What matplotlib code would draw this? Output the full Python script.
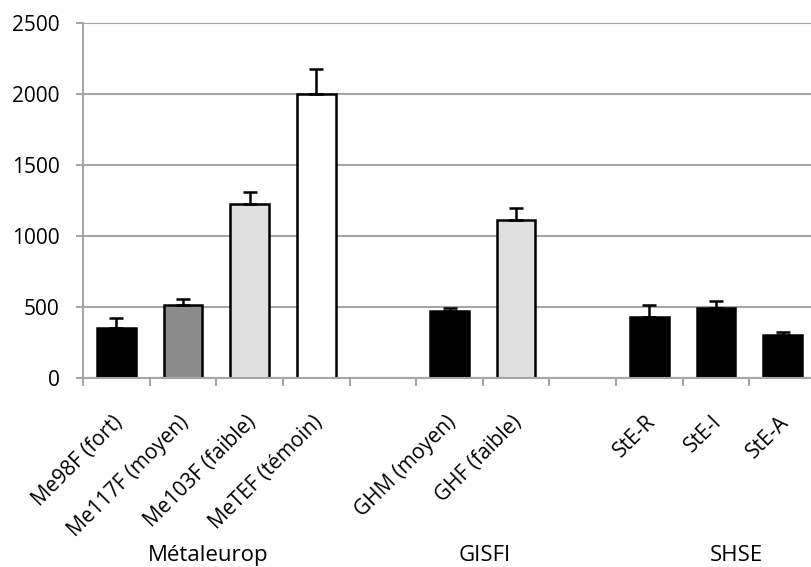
import matplotlib.pyplot as plt
import matplotlib.transforms as mtransforms
import numpy as np

plt.rcParams['font.family'] = ['Open Sans', 'DejaVu Sans']

labels = ["Me98F (fort)", "Me117F (moyen)", "Me103F (faible)", "MeTEF (témoin)",
          "GHM (moyen)", "GHF (faible)",
          "StE-R", "StE-I", "StE-A"]
values = [355, 515, 1225, 2000, 470, 1115, 430, 495, 305]
errors = [65, 42, 88, 175, 22, 82, 85, 47, 22]
colors = ["#000000", "#8c8c8c", "#e0e0e0", "#ffffff",
          "#000000", "#e0e0e0",
          "#000000", "#000000", "#000000"]
groups = ["Métaleurop", "GISFI", "SHSE"]
group_sizes = [4, 2, 3]

# slot positions, one empty slot between groups
pos = []
start = 0
for n in group_sizes:
    pos += list(range(start, start + n))
    start += n + 1
pos = np.array(pos)

fig = plt.figure(figsize=(8.11, 5.67), dpi=100)
ax = fig.add_axes([83 / 811, 1 - 378 / 567, 733 / 811, 355 / 567])

ax.set_axisbelow(True)
ax.yaxis.grid(True, color="#a6a6a6", linewidth=1.5)
ax.bar(pos, values, width=0.58, color=colors, edgecolor="black", linewidth=1.8, zorder=2)
ax.errorbar(pos, values, yerr=[np.zeros(len(errors)), errors], fmt="none",
            ecolor="black", elinewidth=1.8, capsize=5, capthick=1.8, zorder=3)

ax.set_xlim(-0.5, start - 1.5)
ax.set_ylim(0, 2500)
ax.set_yticks(np.arange(0, 2501, 500))
ax.tick_params(axis="y", labelsize=15, length=5, width=1.5, color="#a6a6a6", pad=12)

for s in ["top", "right"]:
    ax.spines[s].set_visible(False)
for s in ["left", "bottom"]:
    ax.spines[s].set_color("#a6a6a6")
    ax.spines[s].set_linewidth(1.5)

# boundary ticks
ax.set_xticks(np.arange(-0.5, start - 1, 1.0))
ax.set_xticklabels([])
ax.tick_params(axis="x", length=6, width=1.5, color="#a6a6a6", direction="out")

offset = mtransforms.ScaledTranslation(3 / 100, -41 / 100, fig.dpi_scale_trans)
for x, lab in zip(pos, labels):
    ax.text(x, 0, lab, rotation=45, ha="right", va="center", rotation_mode="anchor",
            fontsize=15, transform=ax.get_xaxis_transform() + offset)

group_x = [1.375, 5.53, 9.3]
for gx, g in zip(group_x, groups):
    ax.text(gx, -0.5, g, ha="center", va="center", fontsize=16,
            transform=ax.get_xaxis_transform())

fig.savefig("out.png", dpi=100)
